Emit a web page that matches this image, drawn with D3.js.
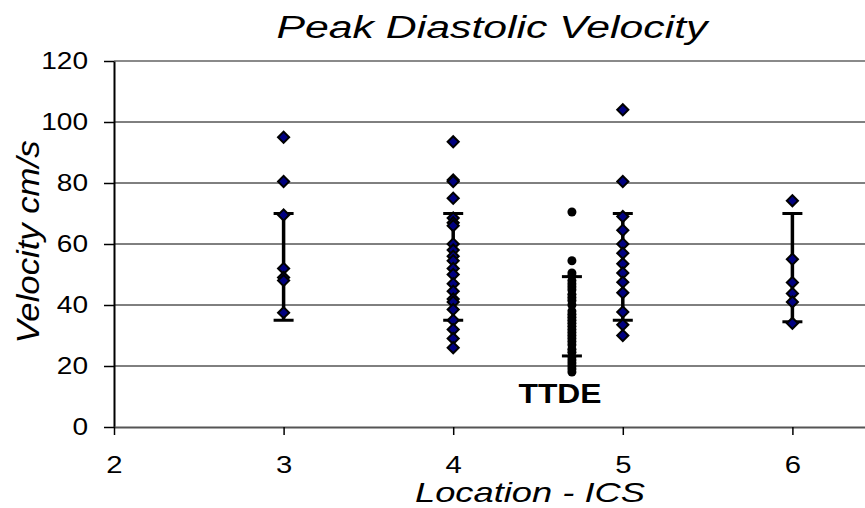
<!DOCTYPE html>
<html>
<head>
<meta charset="utf-8">
<script src="https://cdn.jsdelivr.net/npm/d3@7"></script>
<style>
  body { margin: 0; background: #fff; }
  svg { display: block; font-family: 'Liberation Sans', Arial, sans-serif; }
</style>
</head>
<body>
<div id="chart"></div>
<script>
// Data
const locations = [3, 4, 4.7, 5, 6];
const loc3 = [95, 80.5, 69.5, 52, 49, 48, 37.5];
const loc4 = [93.5, 81, 80.5, 75, 68.5, 67, 66, 60, 58, 56, 54.5, 52, 50, 47, 44.5, 42, 41, 38.5, 35, 32, 29, 26];
const ttde = [70.5, 54.5, 50.5, 49.5, 48, 47, 46, 45, 43.5, 42.5, 41.5, 40, 38, 37, 36, 35, 34, 33, 32, 31, 30, 29, 28, 27, 25.5, 24.5, 23, 22, 21, 20, 19, 18];
const loc5 = [104, 80.5, 69, 64.5, 60, 57, 53.5, 50.5, 47.5, 44, 37.7, 33.5, 30];
const loc6 = [74.2, 55, 47.4, 43.8, 41, 34];
const errLow = [35, 35, 23.3, 35, 34.5];
const errHigh = [70, 70, 49.3, 70, 70];
const xTicks = [2, 3, 4, 5, 6];
const yTicks = [0, 20, 40, 60, 80, 100, 120];

const width = 865;
const height = 508;

const svg = d3
  .select('#chart')
  .append('svg')
  .attr('width', width)
  .attr('height', height);

const x = d3.scaleLinear().domain([2, 7]).range([114, 962]);
const y = d3.scaleLinear().domain([0, 120]).range([427, 61]);

// stretch text horizontally like the original picture
const stretch = (sel, f) => {
  sel.each(function () {
    const len = this.getComputedTextLength();
    d3.select(this).attr('textLength', len * f).attr('lengthAdjust', 'spacingAndGlyphs');
  });
};

// gridlines
svg
  .append('g')
  .selectAll('line')
  .data(yTicks.filter(d => d > 0 && d < 120))
  .join('line')
  .attr('x1', x(2))
  .attr('x2', width)
  .attr('y1', d => y(d))
  .attr('y2', d => y(d))
  .attr('stroke', '#000')
  .attr('stroke-width', 1);

// top border
svg
  .append('line')
  .attr('x1', x(2))
  .attr('x2', width)
  .attr('y1', y(120))
  .attr('y2', y(120))
  .attr('stroke', '#8a8a8a')
  .attr('stroke-width', 2);

// Y-AXIS
const yAxis = svg
  .append('g')
  .attr('transform', `translate(${x(2)},0)`)
  .call(d3.axisLeft(y).tickValues(yTicks).tickSize(10).tickPadding(16).tickSizeOuter(0));
yAxis.select('.domain').attr('stroke', '#000').attr('stroke-width', 2);
yAxis.selectAll('.tick line').attr('stroke', '#000').attr('stroke-width', 1.5);
yAxis.selectAll('text').attr('font-size', 23).attr('fill', '#000').call(stretch, 1.22);

// X-AXIS
const xAxis = svg
  .append('g')
  .attr('transform', `translate(0,${y(0)})`)
  .call(
    d3.axisBottom(x).tickValues(xTicks).tickFormat(d3.format('d')).tickSize(8).tickPadding(21).tickSizeOuter(0)
  );
xAxis.select('.domain').attr('stroke', '#555').attr('stroke-width', 2);
xAxis.selectAll('.tick line').attr('stroke', '#000').attr('stroke-width', 1.5);
xAxis.selectAll('text').attr('font-size', 24).attr('fill', '#000').call(stretch, 1.22);

// Error bars
const bars = svg
  .append('g')
  .selectAll('g')
  .data(locations)
  .join('g')
  .attr('stroke', '#000');

bars
  .append('line')
  .attr('x1', d => x(d))
  .attr('x2', d => x(d))
  .attr('y1', (d, i) => y(errLow[i]))
  .attr('y2', (d, i) => y(errHigh[i]))
  .attr('stroke-width', 3.5);

bars
  .append('line')
  .attr('x1', d => x(d) - 10)
  .attr('x2', d => x(d) + 10)
  .attr('y1', (d, i) => y(errHigh[i]))
  .attr('y2', (d, i) => y(errHigh[i]))
  .attr('stroke-width', 3);

bars
  .append('line')
  .attr('x1', d => x(d) - 10)
  .attr('x2', d => x(d) + 10)
  .attr('y1', (d, i) => y(errLow[i]))
  .attr('y2', (d, i) => y(errLow[i]))
  .attr('stroke-width', 3);

// Diamonds
const diamond = d3.symbol().type(d3.symbolSquare).size(62);
const diamondSeries = [
  { loc: 3, vals: loc3 },
  { loc: 4, vals: loc4 },
  { loc: 5, vals: loc5 },
  { loc: 6, vals: loc6 }
];

diamondSeries.forEach(s => {
  svg
    .append('g')
    .selectAll('path')
    .data(s.vals)
    .join('path')
    .attr('d', diamond)
    .attr('transform', d => `translate(${x(s.loc)},${y(d)}) rotate(45)`)
    .attr('fill', '#000080')
    .attr('stroke', '#000')
    .attr('stroke-width', 2);
});

// TTDE points
svg
  .append('g')
  .selectAll('circle')
  .data(ttde)
  .join('circle')
  .attr('cx', x(4.7))
  .attr('cy', d => y(d))
  .attr('r', 4.5)
  .attr('fill', '#000');

// Labels
svg
  .append('text')
  .attr('x', 560)
  .attr('y', 403)
  .attr('text-anchor', 'middle')
  .attr('font-size', 28)
  .attr('font-weight', 'bold')
  .attr('textLength', 83)
  .attr('lengthAdjust', 'spacingAndGlyphs')
  .text('TTDE');

svg
  .append('text')
  .attr('x', 492)
  .attr('y', 38)
  .attr('text-anchor', 'middle')
  .attr('font-size', 31)
  .attr('font-style', 'italic')
  .attr('textLength', 431)
  .attr('lengthAdjust', 'spacingAndGlyphs')
  .text('Peak Diastolic Velocity');

svg
  .append('text')
  .attr('transform', 'translate(39,242) rotate(-90)')
  .attr('text-anchor', 'middle')
  .attr('font-size', 31)
  .attr('font-style', 'italic')
  .attr('textLength', 203)
  .attr('lengthAdjust', 'spacingAndGlyphs')
  .text('Velocity cm/s');

svg
  .append('text')
  .attr('x', 530)
  .attr('y', 502)
  .attr('text-anchor', 'middle')
  .attr('font-size', 28)
  .attr('font-style', 'italic')
  .attr('textLength', 230)
  .attr('lengthAdjust', 'spacingAndGlyphs')
  .text('Location - ICS');
</script>
</body>
</html>
